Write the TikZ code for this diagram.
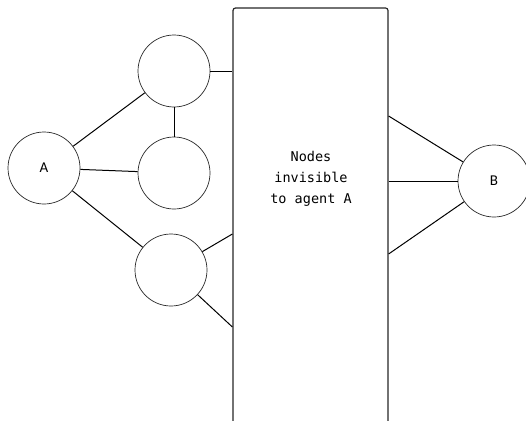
\documentclass[tikz,border=0pt]{standalone}
\usepackage{fontspec}
\setmonofont{DejaVu Sans Mono}
\newfontfamily\lblfont{Carlito}
\usetikzlibrary{positioning}

\begin{document}
\begin{tikzpicture}[x=1pt, y=-1pt,
  agent/.style={circle, draw=black!85, line width=0.7pt, minimum size=72pt, inner sep=0pt, font=\lblfont\fontsize{15}{17}\selectfont},
  link/.style={draw=black, line width=1pt},
  hidden/.style={rectangle, rounded corners=2.5pt, draw=black!85, line width=1.2pt, minimum width=155pt, minimum height=440pt, inner sep=0pt}]
\clip (0,0) rectangle (526,420);
\node[hidden] (box) at (310.5,228) {};
\node[align=center, font=\ttfamily\fontsize{13.5}{21}\selectfont] (txt) at (311,179) {Nodes\\invisible\\to agent A};
\node[agent] (A) at (44,168) {A};
\node[agent] (n1) at (174,71) {};
\node[agent] (n2) at (174,173) {};
\node[agent] (n3) at (171,270) {};
\node[agent] (B) at (494,181) {B};
% ports on the box
\coordinate (l1) at (box.west |- 0,71);
\coordinate (l2) at (box.west |- 0,234);
\coordinate (l3) at (box.west |- 0,327);
\coordinate (r1) at (box.east |- 0,116);
\coordinate (r2) at (box.east |- 0,181);
\coordinate (r3) at (box.east |- 0,254);
\path[link] (A) -- (n1);
\path[link] (A) -- (n2);
\path[link] (A) -- (n3);
\path[link] (n1) -- (n2);
\path[link] (n1) -- (l1);
\path[link] (n3) -- (l2);
\path[link] (n3) -- (l3);
\path[link] (r1) -- (B);
\path[link] (r2) -- (B);
\path[link] (r3) -- (B);
\end{tikzpicture}
\end{document}
